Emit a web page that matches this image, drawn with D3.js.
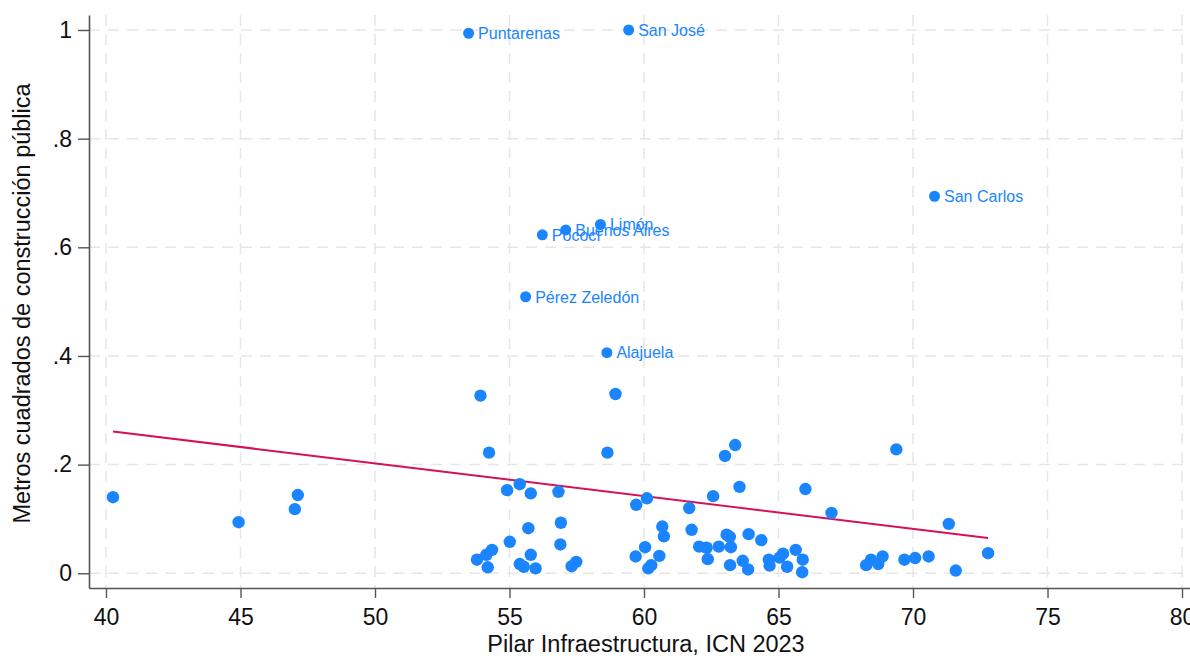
<!DOCTYPE html>
<html>
<head>
<meta charset="utf-8">
<script src="https://cdn.jsdelivr.net/npm/d3@7"></script>
<style>
  html, body { margin: 0; padding: 0; background: #fff; }
  svg { display: block; font-family: "Liberation Sans", Arial, sans-serif; }
</style>
</head>
<body>
<svg id="chart" width="1190" height="661"></svg>
<script>
// ---- Data ----
const labeledNames = ["Puntarenas", "San José", "San Carlos", "Limón", "Buenos Aires", "Pococí", "Pérez Zeledón", "Alajuela"];
const labeledX = [53.48, 59.43, 70.80, 58.38, 57.09, 56.22, 55.60, 58.62];
const labeledY = [0.994, 1.000, 0.694, 0.642, 0.632, 0.623, 0.509, 0.406];

const pointsX = [
  40.26, 44.93, 47.02, 47.13,
  53.92, 58.94, 54.24, 58.64, 54.91, 55.38, 55.79, 56.82, 59.71, 60.11,
  55.70, 56.91, 55.01, 56.89, 53.79, 54.14, 54.35, 54.19, 55.38, 55.53,
  55.79, 55.97, 57.31, 57.48, 59.69, 60.04, 60.16, 60.27,
  63.01, 63.39, 63.55, 62.57, 66.00, 61.68, 60.68, 60.74, 61.77, 63.07,
  63.19, 63.89, 64.36, 62.05, 62.33, 62.78, 63.23, 60.57, 62.37, 63.20,
  63.67, 63.87, 64.64, 64.67, 65.04, 65.17, 65.32, 65.64, 65.90, 65.88,
  69.38, 66.97, 71.33, 72.79, 68.26, 68.44, 68.71, 68.87, 69.68, 70.08,
  70.58, 71.59
];
const pointsY = [
  0.140, 0.094, 0.118, 0.144,
  0.327, 0.330, 0.222, 0.222, 0.153, 0.164, 0.147, 0.150, 0.126, 0.138,
  0.083, 0.093, 0.058, 0.053, 0.025, 0.034, 0.043, 0.011, 0.017, 0.012,
  0.034, 0.009, 0.013, 0.021, 0.031, 0.048, 0.009, 0.015,
  0.216, 0.236, 0.159, 0.142, 0.155, 0.120, 0.086, 0.068, 0.080, 0.071,
  0.067, 0.072, 0.061, 0.049, 0.047, 0.049, 0.048, 0.032, 0.026, 0.015,
  0.023, 0.007, 0.025, 0.014, 0.029, 0.036, 0.012, 0.043, 0.025, 0.002,
  0.228, 0.111, 0.091, 0.037, 0.015, 0.025, 0.017, 0.031, 0.025, 0.028,
  0.031, 0.005
];

// Linear fit line endpoints (as drawn in the reference)
const fitX = [40.26, 72.79];
const fitY = [0.261, 0.065];

const xTicks = [40, 45, 50, 55, 60, 65, 70, 75, 80];
const yTicks = [0, 0.2, 0.4, 0.6, 0.8, 1];
const xTitle = "Pilar Infraestructura, ICN 2023";
const yTitle = "Metros cuadrados de construcción pública";

(function () {
// ---- Layout ----
const svg = d3.select("#chart");
const pL = 89, pR = 1190, pT = 15, pB = 588;

const x = d3.scaleLinear().domain([39.368, 80.297]).range([pL, pR]);
const y = d3.scaleLinear().domain([-0.0271, 1.0276]).range([pB, pT]);

const blue = "#1a85ff";
const red = "#d41159";
const gridColor = "#e6e6e6";
const axisColor = "#555";

// Grid
const grid = svg.append("g");
grid.selectAll("line.v").data(xTicks).enter().append("line")
  .attr("x1", d => x(d)).attr("x2", d => x(d))
  .attr("y1", pT).attr("y2", pB)
  .attr("stroke", gridColor).attr("stroke-width", 1.5).attr("stroke-dasharray", "11,8");
grid.selectAll("line.h").data(yTicks).enter().append("line")
  .attr("y1", d => y(d)).attr("y2", d => y(d))
  .attr("x1", pL).attr("x2", pR)
  .attr("stroke", gridColor).attr("stroke-width", 1.5).attr("stroke-dasharray", "11,8");

// Axes
const fmtY = d => d === 0 ? "0" : d === 1 ? "1" : String(d).replace(/^0\./, ".");
const xAxis = d3.axisBottom(x).tickValues(xTicks).tickFormat(d3.format("d")).tickSizeInner(10).tickSizeOuter(0).tickPadding(11);
const yAxis = d3.axisLeft(y).tickValues(yTicks).tickFormat(fmtY).tickSizeInner(11).tickSizeOuter(0).tickPadding(6);

const gx = svg.append("g").attr("transform", `translate(0,${pB})`).call(xAxis);
const gy = svg.append("g").attr("transform", `translate(${pL},0)`).call(yAxis);
[gx, gy].forEach(g => {
  g.select(".domain").attr("stroke", axisColor).attr("stroke-width", 1.6);
  g.selectAll(".tick line").attr("stroke", axisColor).attr("stroke-width", 1.4);
  g.selectAll(".tick text").attr("fill", "#111").style("font-size", "23px")
    .style("font-family", "'Liberation Sans', Arial, sans-serif");
});

// Titles
svg.append("text").attr("x", 646).attr("y", 652)
  .attr("text-anchor", "middle").attr("fill", "#111").style("font-size", "23.5px")
  .text(xTitle);
svg.append("text").attr("transform", `translate(30,303.5) rotate(-90)`)
  .attr("text-anchor", "middle").attr("fill", "#111").style("font-size", "23.5px")
  .text(yTitle);

// Fit line
const line = d3.line().x(d => x(d[0])).y(d => y(d[1]));
svg.append("path").datum(d3.zip(fitX, fitY)).attr("d", line)
  .attr("fill", "none").attr("stroke", red).attr("stroke-width", 2);

// Points
const pts = d3.zip(pointsX, pointsY);
svg.append("g").selectAll("circle").data(pts).enter().append("circle")
  .attr("cx", d => x(d[0])).attr("cy", d => y(d[1])).attr("r", 6.2)
  .attr("fill", blue);

// Labeled points
const lab = labeledNames.map((n, i) => ({ n, x: labeledX[i], y: labeledY[i] }));
const lg = svg.append("g");
lg.selectAll("circle").data(lab).enter().append("circle")
  .attr("cx", d => x(d.x)).attr("cy", d => y(d.y)).attr("r", 5.5).attr("fill", blue);
lg.selectAll("text").data(lab).enter().append("text")
  .attr("x", d => x(d.x) + 9.5).attr("y", d => y(d.y)).attr("dy", "0.36em")
  .attr("fill", blue).style("font-size", "16px").text(d => d.n);
})();
</script>
</body>
</html>
